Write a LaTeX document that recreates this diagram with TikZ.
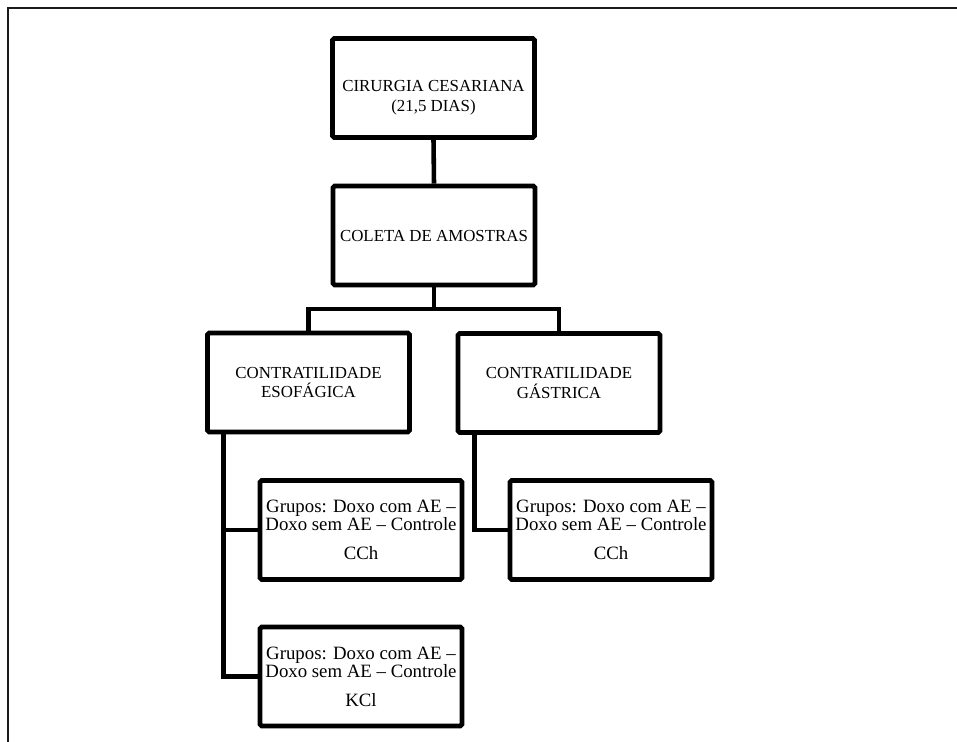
\documentclass[tikz,border=0pt]{standalone}
\usepackage{fontspec}
\setmainfont{Liberation Serif}
\definecolor{flowblack}{HTML}{000000}
\definecolor{framegray}{HTML}{1A1A1A}
\usetikzlibrary{calc}
\tikzset{
    stagebox/.style={
        draw=flowblack,
        fill=white,
        rounded corners=1pt,
        line width=2.8pt,
        minimum width=4.04cm,
        minimum height=1.98cm,
        inner sep=2pt,
        align=center,
        font=\fontsize{9.6}{11.3}\selectfont
    },
    groupbox/.style={
        stagebox,
        font=\fontsize{10.7}{10.4}\selectfont
    },
    flowline/.style={
        draw=flowblack,
        line width=2.6pt
    },
    pageframe/.style={
        draw=framegray,
        line width=1.1pt
    }
}

\begin{document}
\begin{tikzpicture}
    \useasboundingbox (0,0) rectangle (19.14,-14.84);
    \draw[pageframe] (0.16,-15.2) |- (19.6,-0.16);

    \node[stagebox] (cirurgiaBox) at (8.67,-1.76)
        {\vphantom{X}\\CIRURGIA CESARIANA\\(21,5 DIAS)};
    \node[stagebox] (coletaBox) at (8.68,-4.71) {COLETA DE AMOSTRAS};
    \node[stagebox] (esofagoBox) at (6.17,-7.65) {CONTRATILIDADE\\ESOFÁGICA};
    \node[stagebox] (gastricoBox) at (11.18,-7.66) {CONTRATILIDADE\\GÁSTRICA};

    \node[groupbox] (esofagoCCh) at (7.22,-10.6)
        {Grupos: Doxo com AE –\\Doxo sem AE – Controle\\[6pt]CCh};
    \node[groupbox] (esofagoKCl) at (7.22,-13.53)
        {Grupos: Doxo com AE –\\Doxo sem AE – Controle\\[6pt]KCl};
    \node[groupbox] (gastricoCCh) at (12.22,-10.6)
        {Grupos: Doxo com AE –\\Doxo sem AE – Controle\\[6pt]CCh};

    \draw[flowline] (cirurgiaBox.south) -- (coletaBox.north);
    \coordinate (splitPoint) at
        ($(coletaBox.south)!0.5!(coletaBox.south |- esofagoBox.north)$);
    \draw[flowline] (coletaBox.south) -- (splitPoint);
    \draw[flowline] (esofagoBox.north) |- (splitPoint) -| (gastricoBox.north);

    \coordinate (esofagoTrunk) at ([xshift=0.37cm]esofagoBox.south west);
    \draw[flowline] (esofagoTrunk) |- (esofagoKCl.west);
    \draw[flowline] (esofagoTrunk |- esofagoCCh.west) -- (esofagoCCh.west);
    \coordinate (gastricoTrunk) at ([xshift=0.38cm]gastricoBox.south west);
    \draw[flowline] (gastricoTrunk) |- (gastricoCCh.west);
\end{tikzpicture}
\end{document}
